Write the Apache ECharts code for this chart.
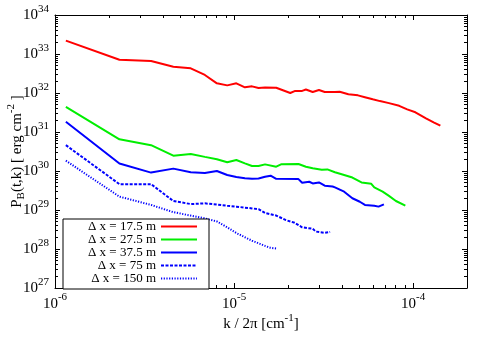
<!DOCTYPE html>
<html>
<head>
<meta charset="utf-8">
<script src="https://cdn.jsdelivr.net/npm/echarts@6/dist/echarts.min.js"></script>
<style>
  html, body { margin: 0; padding: 0; background: #fff; }
  #chart { width: 491px; height: 343px; }
</style>
</head>
<body>
<div id="chart"></div>
<script>
// wavenumbers k/2pi [cm^-1] and spectra P_B [erg cm^-2]
const names = ['Δ x = 17.5 m', 'Δ x = 27.5 m', 'Δ x = 37.5 m', 'Δ x = 75 m', 'Δ x = 150 m'];

const kRed = [1.15e-6, 2.29e-6, 3.44e-6, 4.58e-6, 5.73e-6, 6.87e-6, 8.02e-6, 9.16e-6,
  1.03e-5, 1.15e-5, 1.26e-5, 1.37e-5, 1.49e-5, 1.72e-5, 2.06e-5, 2.18e-5, 2.29e-5, 2.40e-5,
  2.52e-5, 2.75e-5, 2.98e-5, 3.21e-5, 3.66e-5, 3.89e-5, 4.35e-5, 4.92e-5, 5.38e-5, 5.95e-5,
  6.53e-5, 7.33e-5, 8.36e-5, 9.27e-5, 1.03e-4, 1.18e-4, 1.31e-4, 1.42e-4];
const pRed = [2.2e33, 7.1e32, 6.6e32, 4.7e32, 4.3e32, 2.9e32, 1.77e32, 1.57e32,
  1.77e32, 1.40e32, 1.48e32, 1.34e32, 1.38e32, 1.36e32, 1.0e32, 1.12e32, 1.12e32, 1.13e32,
  1.23e32, 1.06e32, 1.19e32, 1.06e32, 1.06e32, 1.08e32, 9.3e31, 8.7e31, 7.8e31, 6.9e31,
  6.2e31, 5.5e31, 4.7e31, 3.8e31, 3.2e31, 2.24e31, 1.74e31, 1.45e31];

const kGreen = [1.15e-6, 2.29e-6, 3.44e-6, 4.58e-6, 5.73e-6, 6.87e-6, 8.02e-6, 9.16e-6,
  1.03e-5, 1.15e-5, 1.26e-5, 1.37e-5, 1.49e-5, 1.72e-5, 1.83e-5, 2.29e-5, 2.52e-5, 2.75e-5,
  3.09e-5, 3.32e-5, 3.66e-5, 4.12e-5, 4.58e-5, 5.15e-5, 5.84e-5, 6.07e-5, 6.76e-5, 7.33e-5,
  8.02e-5, 9.05e-5];
const pGreen = [4.4e31, 6.5e30, 4.6e30, 2.47e30, 2.73e30, 2.3e30, 2.0e30, 1.67e30,
  1.91e30, 1.57e30, 1.34e30, 1.34e30, 1.48e30, 1.29e30, 1.48e30, 1.51e30, 1.29e30, 1.17e30,
  1.07e30, 1.10e30, 9.3e29, 7.9e29, 6.8e29, 5.1e29, 4.7e29, 3.8e29, 2.95e29, 2.3e29,
  1.7e29, 1.29e29];

const kBlue = [1.15e-6, 2.29e-6, 3.44e-6, 4.58e-6, 5.73e-6, 6.87e-6, 8.02e-6, 9.16e-6,
  1.03e-5, 1.15e-5, 1.26e-5, 1.37e-5, 1.49e-5, 1.60e-5, 1.72e-5, 2.29e-5, 2.40e-5, 2.63e-5,
  2.75e-5, 2.98e-5, 3.21e-5, 3.55e-5, 3.66e-5, 4.12e-5, 4.58e-5, 5.04e-5, 5.38e-5, 6.07e-5,
  6.41e-5, 6.87e-5];
const pBlue = [1.84e31, 1.55e30, 9.1e29, 1.15e30, 9.3e29, 8.9e29, 1.0e30, 7.9e29,
  7.0e29, 6.5e29, 6.3e29, 6.4e29, 7.1e29, 7.6e29, 6.3e29, 6.2e29, 5.0e29, 5.3e29,
  4.8e29, 5.1e29, 4.2e29, 4.0e29, 3.8e29, 2.95e29, 2.0e29, 1.63e29, 1.35e29, 1.29e29,
  1.22e29, 1.4e29];

const kDash = [1.15e-6, 2.29e-6, 3.44e-6, 4.58e-6, 5.73e-6, 6.87e-6, 8.02e-6, 9.16e-6,
  1.03e-5, 1.15e-5, 1.26e-5, 1.37e-5, 1.49e-5, 1.72e-5, 1.95e-5, 2.18e-5, 2.40e-5, 2.75e-5,
  2.86e-5, 3.21e-5, 3.44e-5];
const pDash = [4.6e30, 4.6e29, 4.6e29, 1.7e29, 1.42e29, 1.48e29, 1.38e29, 1.29e29,
  1.22e29, 1.15e29, 1.10e29, 1.05e29, 8.4e28, 7.2e28, 5.5e28, 4.7e28, 3.6e28, 3.3e28,
  2.8e28, 2.6e28, 2.75e28];

const kDot = [1.15e-6, 2.29e-6, 3.44e-6, 4.58e-6, 5.73e-6, 6.87e-6, 8.02e-6, 9.16e-6,
  1.03e-5, 1.15e-5, 1.26e-5, 1.37e-5, 1.49e-5, 1.60e-5, 1.72e-5];
const pDot = [1.84e30, 2.2e29, 1.35e29, 8.8e28, 7.2e28, 6.1e28, 5.1e28, 3.6e28,
  2.57e28, 2.0e28, 1.63e28, 1.4e28, 1.2e28, 1.07e28, 1.03e28];

// tick positions
const xMajor = [1e-6, 1e-5, 1e-4];
const xMinor = [2e-6, 3e-6, 4e-6, 5e-6, 6e-6, 7e-6, 8e-6, 9e-6,
  2e-5, 3e-5, 4e-5, 5e-5, 6e-5, 7e-5, 8e-5, 9e-5, 2e-4];
const yMajor = [1e27, 1e28, 1e29, 1e30, 1e31, 1e32, 1e33, 1e34];
const yMinor = [];
for (let e = 27; e < 34; e++) {
  for (let m = 2; m <= 9; m++) yMinor.push(m * Math.pow(10, e));
}

const FONT = 'Liberation Serif';
const chart = echarts.init(document.getElementById('chart'));

const powLabel = (v) => '{b|10}{e|' + Math.round(Math.log10(v)) + '}';

const tickAxis = (base, position, values, len, showLine) => Object.assign({}, base, {
  position: position,
  axisLine: { show: showLine, onZero: false, lineStyle: { color: '#000', width: 1 } },
  axisTick: { show: true, inside: true, length: len, customValues: values,
    lineStyle: { color: '#000', width: 1 } },
  axisLabel: { show: false },
  splitLine: { show: false },
});

const xBase = { type: 'log', logBase: 10, min: 1e-6, max: 2e-4, gridIndex: 0 };
const yBase = { type: 'log', logBase: 10, min: 1e27, max: 1e34, gridIndex: 0 };

const xMain = tickAxis(xBase, 'bottom', xMajor, 5, true);
xMain.axisLabel = {
  show: true, customValues: xMajor, formatter: powLabel, margin: 4,
  rich: {
    b: { fontFamily: FONT, fontSize: 15, color: '#000' },
    e: { fontFamily: FONT, fontSize: 11, color: '#000', padding: [0, 0, 14, 0] },
  },
};
xMain.name = 'k / 2π [cm{e|-1}]';
xMain.nameLocation = 'middle';
xMain.nameGap = 25;
xMain.nameMoveOverlap = false;
xMain.nameTextStyle = {
  fontFamily: FONT, fontSize: 15, color: '#000',
  rich: { e: { fontFamily: FONT, fontSize: 11, color: '#000', padding: [0, 0, 12, 0] } },
};

const yMain = tickAxis(yBase, 'left', yMajor, 5, true);
yMain.axisLabel = {
  show: true, customValues: yMajor, formatter: powLabel, margin: 6,
  rich: {
    b: { fontFamily: FONT, fontSize: 15, color: '#000' },
    e: { fontFamily: FONT, fontSize: 11, color: '#000', padding: [0, 0, 11, 0] },
  },
};
yMain.name = 'P{s|B}(t,k) [ erg cm{e|-2} ]';
yMain.nameLocation = 'middle';
yMain.nameGap = 26;
yMain.nameMoveOverlap = false;
yMain.nameTextStyle = {
  fontFamily: FONT, fontSize: 15, color: '#000',
  rich: {
    s: { fontFamily: FONT, fontSize: 11, color: '#000', padding: [8, 0, 0, 0] },
    e: { fontFamily: FONT, fontSize: 11, color: '#000', padding: [0, 0, 12, 0] },
  },
};

const colors = ['#ff0000', '#00ee00', '#0000ff', '#0000ff', '#0000ff'];
const dashes = ['solid', 'solid', 'solid', [3, 1.5], [1.2, 1.5]];
const kList = [kRed, kGreen, kBlue, kDash, kDot];
const pList = [pRed, pGreen, pBlue, pDash, pDot];

const series = names.map((name, i) => ({
  name: name,
  type: 'line',
  xAxisIndex: 0,
  yAxisIndex: 0,
  symbol: 'none',
  showSymbol: false,
  animation: false,
  color: colors[i],
  lineStyle: { color: colors[i], width: 2, type: dashes[i] },
  data: kList[i].map((k, j) => [k, pList[i][j]]),
}));

const option = {
  animation: false,
  grid: { left: 55, top: 15, right: 24, bottom: 55, containLabel: false, outerBoundsMode: 'none' },
  xAxis: [
    xMain,
    tickAxis(xBase, 'bottom', xMinor, 3, false),
    tickAxis(xBase, 'top', xMajor, 5, true),
    tickAxis(xBase, 'top', xMinor, 3, false),
  ],
  yAxis: [
    yMain,
    tickAxis(yBase, 'left', yMinor, 3, false),
    tickAxis(yBase, 'right', yMajor, 5, true),
    tickAxis(yBase, 'right', yMinor, 3, false),
  ],
  legend: {
    data: names,
    orient: 'vertical',
    left: 63,
    top: 219,
    align: 'right',
    padding: [1, 11, 4, 8],
    itemGap: 0,
    itemWidth: 36,
    itemHeight: 13,
    itemStyle: { opacity: 0 },
    backgroundColor: '#fff',
    borderColor: '#000',
    borderWidth: 1,
    borderRadius: 0,
    formatter: (n) => '{t|' + n + '}',
    textStyle: {
      fontFamily: FONT, fontSize: 13, color: '#000',
      rich: { t: { fontFamily: FONT, fontSize: 13, color: '#000', width: 85, align: 'right', lineHeight: 13 } },
    },
  },
  series: series,
};
chart.setOption(option);
</script>
</body>
</html>
